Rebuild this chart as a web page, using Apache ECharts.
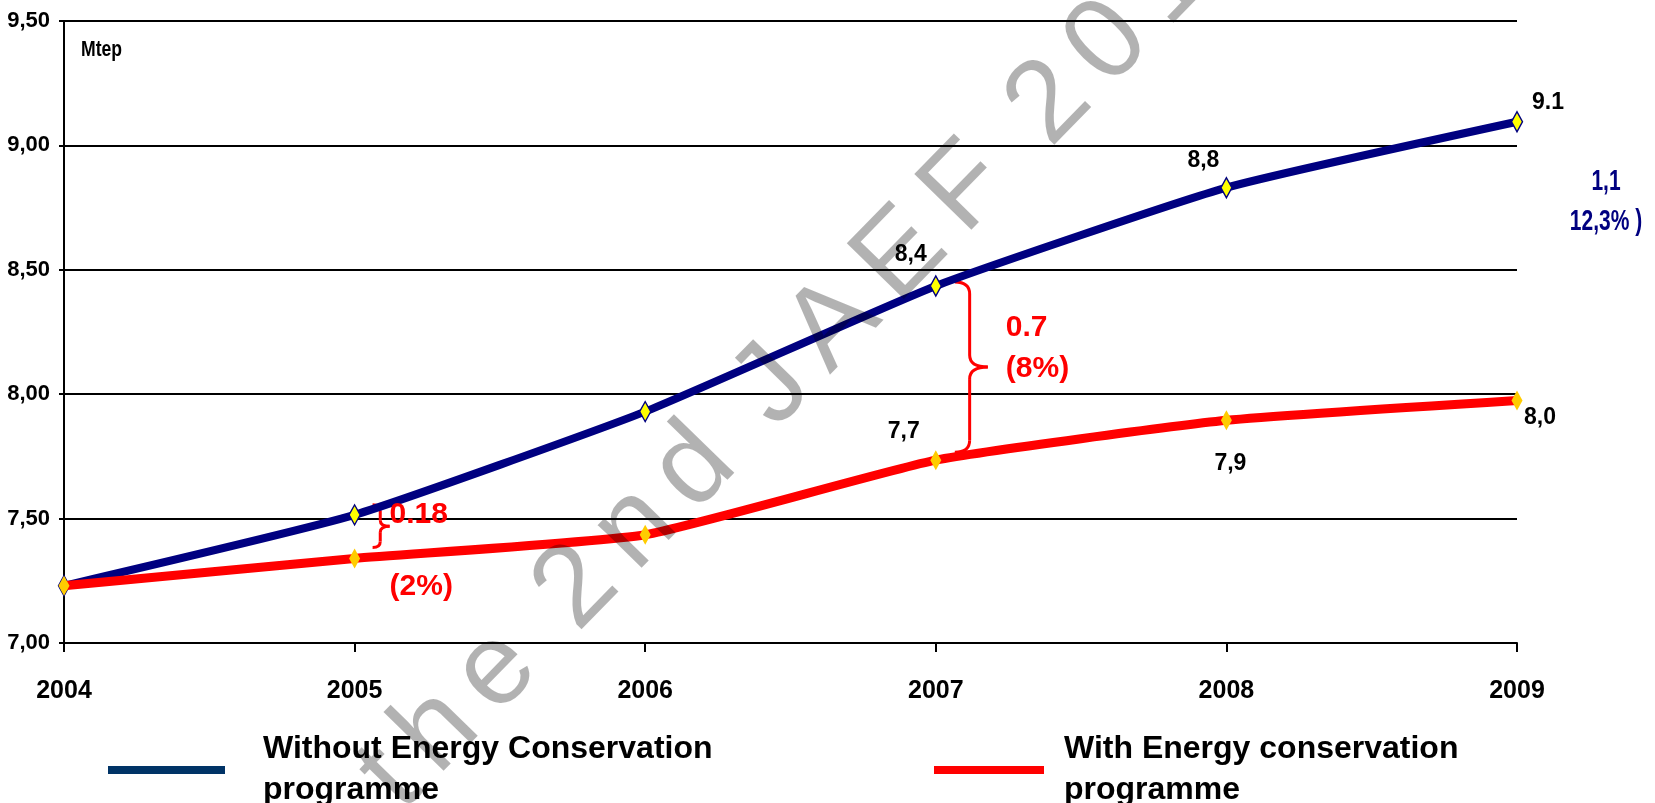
<!DOCTYPE html>
<html>
<head>
<meta charset="utf-8">
<title>Energy conservation programme</title>
<script src="https://cdn.jsdelivr.net/npm/echarts@6/dist/echarts.min.js"></script>
<style>
  html, body { margin: 0; padding: 0; background: #fff; }
  #chart { width: 1655px; height: 803px; }
</style>
</head>
<body>
<div id="chart"></div>
<script>
// values (Mtep)
const years = ['2004', '2005', '2006', '2007', '2008', '2009'];
const withoutProgramme = [7.23, 7.515, 7.93, 8.435, 8.83, 9.095];
const withProgramme = [7.23, 7.34, 7.435, 7.735, 7.895, 7.975];
const withoutLabels = ['', '', '', '8,4', '8,8', '9.1'];
const withLabels = ['', '', '', '7,7', '7,9', '8,0'];
const seriesNames = ['Without Energy Conservation programme', 'With Energy conservation programme'];
const gapNotes = [
    { year: 1, value: '0.18', share: '(2%)' },
    { year: 3, value: '0.7', share: '(8%)' }
];
const totalGap = ['1,1', '12,3% )'];
const watermarkWords = ['the', '2nd', 'JAEF', '2010'];

// no narrow face installed: plain Arial-like bold, squeezed where a graphic allows it
const SANS = '"Liberation Sans", Arial, sans-serif';

// where each value label sits around its point
const blueLabelOffset = [null, null, null, [-25, -31], [-23, -27], [31, -19]];
const redLabelOffset = [null, null, null, [-32, -28], [4, 43], [23, 17]];

function pointData(values, labels, offsets) {
    return values.map((v, i) => ({
        value: v,
        label: labels[i] ? {
            show: true,
            formatter: labels[i],
            position: 'inside',
            offset: offsets[i],
            align: 'center',
            verticalAlign: 'middle'
        } : { show: false }
    }));
}

const chart = echarts.init(document.getElementById('chart'));

const legendText = {
    color: '#000',
    fontFamily: SANS,
    fontWeight: 'bold',
    fontSize: 32,
    lineHeight: 41
};

const option = {
    backgroundColor: '#fff',
    animation: false,
    grid: { left: 64, right: 138, top: 21, bottom: 160 },
    legend: [
        {
            data: [{ name: seriesNames[0], icon: 'rect', itemStyle: { color: '#003366', borderWidth: 0 } }],
            left: 108,
            top: 729,
            padding: 0,
            itemWidth: 117,
            itemHeight: 8,
            selectedMode: false,
            formatter: name => name.replace(' programme', '\nprogramme'),
            textStyle: Object.assign({ padding: [0, 0, 0, 33] }, legendText)
        },
        {
            data: [{ name: seriesNames[1], icon: 'rect', itemStyle: { color: '#ff0000', borderWidth: 0 } }],
            left: 934,
            top: 729,
            padding: 0,
            itemWidth: 110,
            itemHeight: 8,
            selectedMode: false,
            formatter: name => name.replace(' programme', '\nprogramme'),
            textStyle: Object.assign({ padding: [0, 0, 0, 15] }, legendText)
        }
    ],
    xAxis: {
        type: 'category',
        data: years,
        boundaryGap: false,
        axisLine: { lineStyle: { color: '#000', width: 2 } },
        axisTick: { show: true, length: 9, lineStyle: { color: '#000', width: 2 } },
        axisLabel: {
            margin: 36,
            color: '#000',
            fontFamily: SANS,
            fontWeight: 'bold',
            fontSize: 25
        }
    },
    yAxis: {
        type: 'value',
        min: 7,
        max: 9.5,
        interval: 0.5,
        axisLine: { show: true, lineStyle: { color: '#000', width: 2 } },
        axisTick: { show: true, length: 5, lineStyle: { color: '#000', width: 2 } },
        splitLine: { lineStyle: { color: '#000', width: 2 } },
        axisLabel: {
            margin: 14,
            color: '#000',
            fontFamily: SANS,
            fontWeight: 'bold',
            fontSize: 22,
            formatter: v => v.toFixed(2).replace('.', ',')
        }
    },
    series: [
        {
            name: seriesNames[0],
            type: 'line',
            smooth: 0.15,
            data: pointData(withoutProgramme, withoutLabels, blueLabelOffset),
            symbol: 'diamond',
            symbolSize: [11, 20],
            lineStyle: { color: '#000080', width: 8 },
            itemStyle: { color: '#ffff00', borderColor: '#000080', borderWidth: 1.5 },
            label: { color: '#000', fontFamily: SANS, fontWeight: 'bold', fontSize: 23 },
            z: 2
        },
        {
            name: seriesNames[1],
            type: 'line',
            smooth: 0.15,
            data: pointData(withProgramme, withLabels, redLabelOffset),
            symbol: 'diamond',
            symbolSize: [11, 20],
            lineStyle: { color: '#ff0000', width: 9 },
            itemStyle: { color: '#ffcc00', borderWidth: 0 },
            label: { color: '#000', fontFamily: SANS, fontWeight: 'bold', fontSize: 23 },
            z: 3
        }
    ]
};

chart.setOption(option);

// curly brace "}" between two y positions
function braceParts(x0, x1, yTop, yBot, r) {
    const xm = x0 + (x1 - x0) * 0.45;
    const ym = (yTop + yBot) / 2;
    const st = { stroke: '#ff0000', lineWidth: 3, fill: null };
    return [
        { type: 'bezierCurve', shape: { x1: x0, y1: yTop, cpx1: xm, cpy1: yTop, x2: xm, y2: yTop + r }, style: st },
        { type: 'line', shape: { x1: xm, y1: yTop + r, x2: xm, y2: ym - r }, style: st },
        { type: 'bezierCurve', shape: { x1: xm, y1: ym - r, cpx1: xm, cpy1: ym, x2: x1, y2: ym }, style: st },
        { type: 'bezierCurve', shape: { x1: x1, y1: ym, cpx1: xm, cpy1: ym, x2: xm, y2: ym + r }, style: st },
        { type: 'line', shape: { x1: xm, y1: ym + r, x2: xm, y2: yBot - r }, style: st },
        { type: 'bezierCurve', shape: { x1: xm, y1: yBot - r, cpx1: xm, cpy1: yBot, x2: x0, y2: yBot }, style: st }
    ];
}

function textEl(text, x, y, opts) {
    return {
        type: 'text',
        x: x,
        y: y,
        scaleX: opts.scaleX || 1,
        style: {
            text: text,
            fill: opts.color,
            font: opts.font,
            align: opts.align || 'left',
            verticalAlign: 'middle',
            textAlign: opts.align || 'left',
            textVerticalAlign: 'middle'
        },
        z: 20
    };
}

const redFont = { color: '#ff0000', font: 'bold 30px ' + SANS };
const px = (i, v) => chart.convertToPixel({ seriesIndex: 0 }, [i, v]);
const graphics = [];

// unit label inside the plot, narrow like the original
graphics.push(textEl('Mtep', 81, 50, { color: '#000', font: 'bold 22px ' + SANS, scaleX: 0.8 }));

// 2005 gap: small brace, value right of it, share below the red line
{
    const n = gapNotes[0];
    const top = px(n.year, withoutProgramme[n.year]);
    const bot = px(n.year, withProgramme[n.year]);
    braceParts(top[0] + 18, top[0] + 35, top[1] - 10, bot[1] - 11, 6).forEach(e => graphics.push(e));
    graphics.push(textEl(n.value, top[0] + 35, top[1], redFont));
    graphics.push(textEl(n.share, top[0] + 35, bot[1] + 28, redFont));
}
// 2007 gap: tall brace, value and share stacked beside its point
{
    const n = gapNotes[1];
    const top = px(n.year, withoutProgramme[n.year]);
    const bot = px(n.year, withProgramme[n.year]);
    const yTop = top[1] - 4, yBot = bot[1] - 8;
    const mid = (yTop + yBot) / 2;
    braceParts(top[0] + 19, top[0] + 52, yTop, yBot, 12).forEach(e => graphics.push(e));
    graphics.push(textEl(n.value, top[0] + 70, mid - 39, redFont));
    graphics.push(textEl(n.share, top[0] + 70, mid + 2, redFont));
}
// total gap in 2009, right of the plot
{
    const last = years.length - 1;
    const top = px(last, withoutProgramme[last]);
    totalGap.forEach((t, k) => {
        graphics.push(textEl(t, top[0] + 89, top[1] + 60 + k * 40, {
            color: '#000080', font: 'bold 30px ' + SANS, align: 'center', scaleX: 0.7
        }));
    });
}
// diagonal letter-spaced watermark over the chart
graphics.push({
    type: 'text',
    x: 379,
    y: 791,
    rotation: 45.7 * Math.PI / 180,
    silent: true,
    style: {
        text: watermarkWords.map(w => w.split('').join('\u2006')).join(' \u2006'),
        fill: 'rgba(0,0,0,0.3)',
        font: '116px ' + SANS,
        align: 'left',
        verticalAlign: 'middle',
        textAlign: 'left',
        textVerticalAlign: 'middle'
    },
    z: 100
});

chart.setOption({ graphic: graphics });
</script>
</body>
</html>
